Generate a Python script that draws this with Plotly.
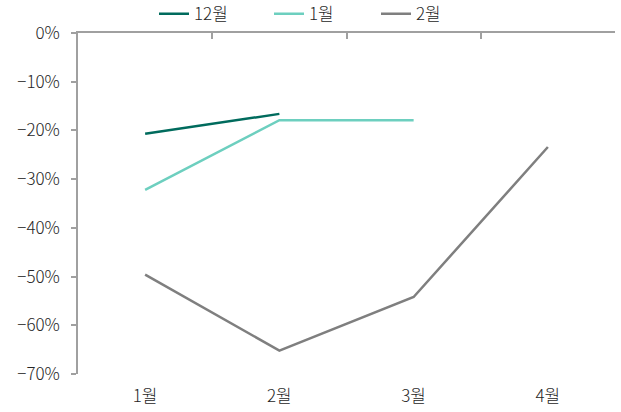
import plotly.graph_objects as go

categories = ["1월", "2월", "3월", "4월"]
series_names = ["12월", "1월", "2월"]
s_dec = [-20.7, -16.6, None, None]
s_jan = [-32.2, -17.9, -17.9, None]
s_feb = [-49.6, -65.2, -54.2, -23.4]
colors = ["#006b5d", "#6dcfbf", "#7f7f7f"]
yticks = [0, -10, -20, -30, -40, -50, -60, -70]
ytick_labels = ["0%", "−10%", "−20%", "−30%", "−40%", "−50%", "−60%", "−70%"]

font = "Noto Sans CJK KR"
legend_ids = ["legend", "legend2", "legend3"]
legend_px = [154, 269, 376]

fig = go.Figure()
for name, vals, c, lg in zip(series_names, [s_dec, s_jan, s_feb], colors, legend_ids):
    fig.add_trace(go.Scatter(x=categories, y=vals, name=name, mode="lines", legend=lg,
                             line=dict(color=c, width=2.5), connectgaps=False))
# invisible trace for top axis
fig.add_trace(go.Scatter(x=[0], y=[None], xaxis="x2", showlegend=False, hoverinfo="skip"))

axis_col = "#a0a0a0"
legends = {}
for lg, px in zip(legend_ids, legend_px):
    legends[lg] = dict(orientation="h", x=(px - 78) / 537, xanchor="left", y=1.055,
                       yanchor="middle", font=dict(size=17, weight=300),
                       bgcolor="rgba(0,0,0,0)")

fig.update_layout(
    width=621, height=412,
    margin=dict(l=78, r=6, t=33, b=38, autoexpand=False),
    plot_bgcolor="white", paper_bgcolor="white",
    font=dict(family=font, size=17, color="#262626", weight=300),
    showlegend=True,
    xaxis=dict(type="category", range=[-0.5, 3.5], showline=False, showgrid=False,
               zeroline=False, ticks="", tickfont=dict(size=17, weight=300),
               ticklabelstandoff=10),
    xaxis2=dict(overlaying="x", side="top", anchor="y", range=[-0.5, 3.5],
                showline=True, linecolor=axis_col, linewidth=1.5, ticks="inside",
                ticklen=6, tickwidth=1.5, tickcolor=axis_col,
                tickvals=[-0.5, 0.5, 1.5, 2.5, 3.5], showticklabels=False,
                showgrid=False, zeroline=False),
    yaxis=dict(range=[-70, 0], tickvals=yticks, ticktext=ytick_labels, showline=True,
               linecolor=axis_col, linewidth=1.5, ticks="outside", ticklen=5,
               tickwidth=1.5, tickcolor=axis_col, showgrid=False, zeroline=False,
               ticklabelstandoff=8, tickfont=dict(size=17, weight=300)),
    **legends,
)
fig.write_html("out.html")
